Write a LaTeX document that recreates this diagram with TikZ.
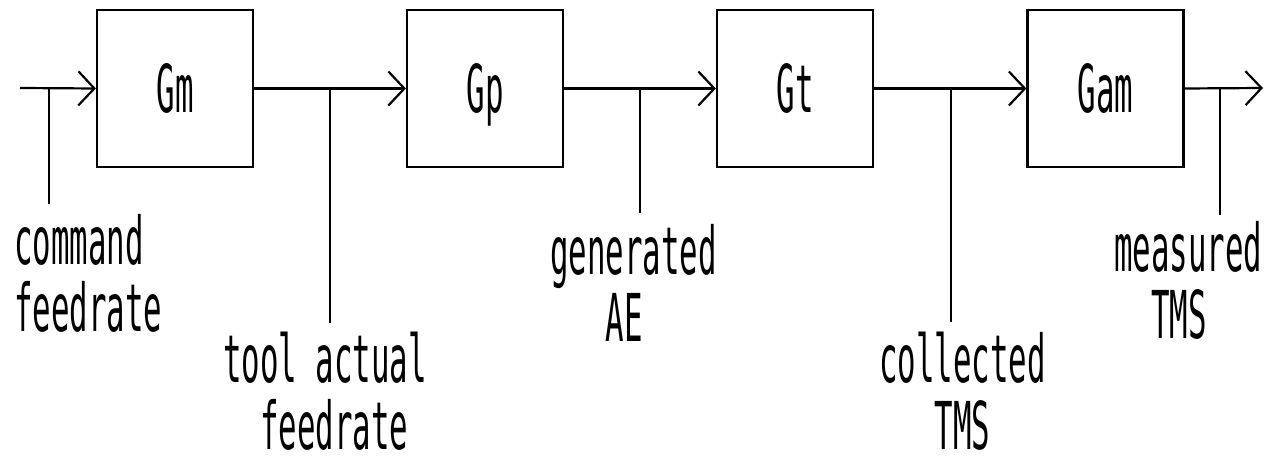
\documentclass[tikz,border=0pt]{standalone}
\usepackage{fontspec}
\usetikzlibrary{arrows.meta}
% narrow plotter-style lettering
\newfontfamily\plotfont[FakeStretch=0.466]{DejaVu Sans Mono}

\tikzset{
  wire/.style={line width=2.2pt},
  feed/.style={wire, -{Straight Barb[length=16pt,width=34pt,line width=2.2pt]}},
  block/.style={draw, line width=2.2pt, minimum width=156pt, minimum height=157pt,
                inner sep=0pt, text height=49pt, text depth=0pt,
                font=\plotfont\fontsize{66}{67}\selectfont},
  signal/.style={anchor=north west, inner sep=0pt, align=left, text depth=0pt,
                 font=\plotfont\fontsize{66}{67}\selectfont}
}

\begin{document}
\begin{tikzpicture}[x=1pt, y=-1pt]
  \useasboundingbox (0,0) rectangle (1271,462);

  % transfer blocks
  \node[block] (gm)  at (175,  88.5) {Gm};
  \node[block] (gp)  at (485,  88.5) {Gp};
  \node[block] (gt)  at (795,  88.5) {Gt};
  \node[block] (gam) at (1105.5,88.5) {Gam};

  % signal path
  \coordinate (in)  at (20,88);
  \coordinate (out) at (1263,88);
  \draw[feed] (in)     -- (gm.west);
  \draw[feed] (gm.east) -- (gp.west);
  \draw[feed] (gp.east) -- (gt.west);
  \draw[feed] (gt.east) -- (gam.west);
  \draw[feed] (gam.east) -- (out);

  % measurement taps
  \coordinate (t1) at (49,88);   \coordinate (t1e) at (49,204);
  \coordinate (t2) at (330,88);  \coordinate (t2e) at (330,323);
  \coordinate (t3) at (640,88);  \coordinate (t3e) at (640,213);
  \coordinate (t4) at (951,88);  \coordinate (t4e) at (951,322);
  \coordinate (t5) at (1220,88); \coordinate (t5e) at (1220,215);
  \foreach \t in {t1,t2,t3,t4,t5} \draw[wire] (\t) -- (\t e);

  % signal names
  \node[signal] (cmd)  at (14,214)   {command\\feedrate};
  \node[signal] (act)  at (223,332)  {tool actual\\~~feedrate};
  \node[signal] (ae)   at (550,224)  {generated\\~~~AE};
  \node[signal] (ctms) at (879,332)  {collected\\~~~TMS};
  \node[signal] (mtms) at (1114,221) {measured\\~~TMS};
\end{tikzpicture}
\end{document}
